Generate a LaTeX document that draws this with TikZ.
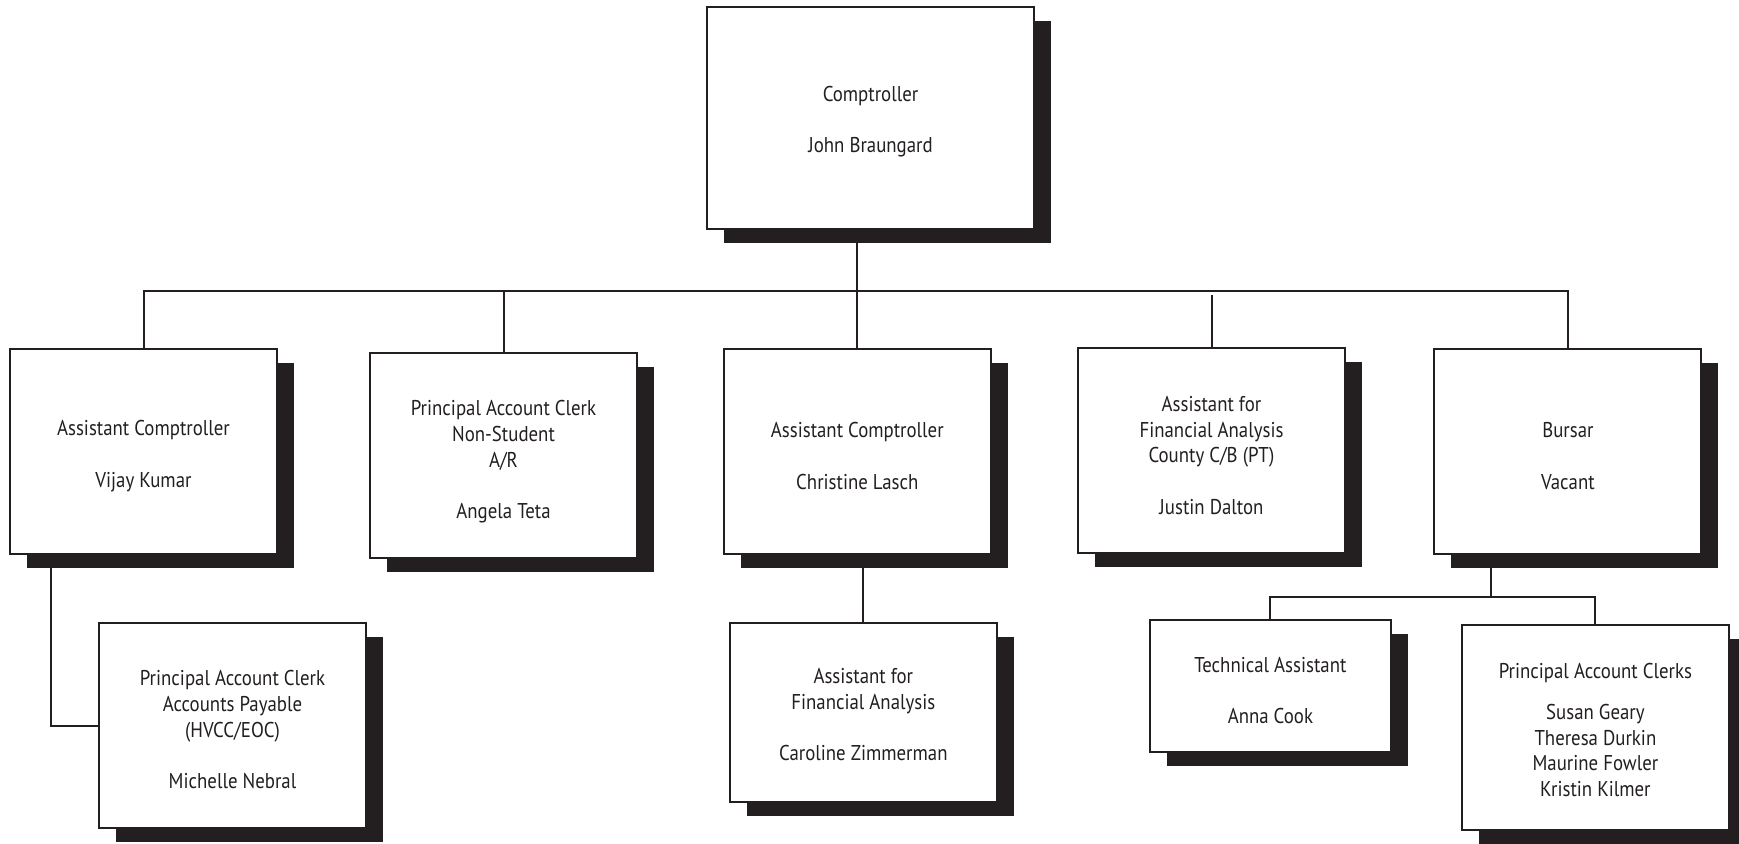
\documentclass[tikz,border=0pt]{standalone}
\usepackage{fontspec}
\setmainfont{PT Sans}[FakeStretch=0.88]
\usepackage{tikz}
\usetikzlibrary{positioning,shadows}
\definecolor{inkc}{HTML}{231F20}
\newcommand{\topgap}[1]{\rule{0pt}{#1}}

\begin{document}
\begin{tikzpicture}[x=0.5pt,y=-0.5pt,
		post/.style={draw=inkc,line width=1pt,fill=white,align=center,
			minimum width=133.5pt,minimum height=102.5pt,inner sep=2pt,
			font=\fontsize{10.7}{12.85}\selectfont,text=inkc,
			drop shadow={shadow xshift=8.5pt,shadow yshift=-7pt,fill=inkc,opacity=1}},
		link/.style={draw=inkc,line width=1pt}]
		\path[use as bounding box,fill=white] (0,0) rectangle (1739,843);
		
		\node[post,minimum width=163.5pt,minimum height=111pt] (comp) at (870.5,118) {\topgap{11.5pt}Comptroller\\[12.85pt]John Braungard};
		
		\node[post] (vijay) at (143.5,451.5) {\topgap{12.4pt}Assistant Comptroller\\[12.85pt]Vijay Kumar};
		\node[post,right=45.5pt of vijay,yshift=-2pt] (angela) {\topgap{14pt}Principal Account Clerk\\Non-Student\\A/R\\[12.85pt]Angela Teta};
		\node[post,right=42.4pt of angela,yshift=2pt] (christine) {\topgap{12pt}Assistant Comptroller\\[12.85pt]Christine Lasch};
		\node[post,right=42.6pt of christine,yshift=0.75pt] (justin) {\topgap{13pt}Assistant for\\Financial Analysis\\County C/B (PT)\\[12.85pt]Justin Dalton};
		\node[post,right=43.7pt of justin,yshift=-0.75pt] (bursar) {\topgap{12pt}Bursar\\[12.85pt]Vacant};
		
		\node[post,below=33.5pt of vijay,xshift=44.5pt] (michelle) {\topgap{12pt}Principal Account Clerk\\Accounts Payable\\(HVCC/EOC)\\[12.85pt]Michelle Nebral};
		\node[post,minimum height=89.5pt,below=33.5pt of christine,xshift=3pt] (caroline) {\topgap{9.7pt}Assistant for\\Financial Analysis\\[12.85pt]Caroline Zimmerman};
		\node[post,minimum width=120.5pt,minimum height=66pt,below=32pt of bursar,xshift=-148.75pt] (technical) {\topgap{12.2pt}Technical Assistant\\[12.85pt]Anna Cook};
		\node[post,below=34.5pt of bursar,xshift=13.75pt] (clerks) {\topgap{10.2pt}Principal Account Clerks\\[7.7pt]Susan Geary\\Theresa Durkin\\Maurine Fowler\\Kristin Kilmer};
		
		\coordinate (bus) at (870.5,291);
		\coordinate (subbus) at (1491,597);
		
		\draw[link] (vijay.north) |- (bus) -| (bursar.north);
		\draw[link] (christine.north) -- (christine.north |- comp.south);
		\draw[link] (angela.north) -- ++(0,-60);
		\draw[link] (justin.north) -- ++(0,-52);
		\draw[link] ([xshift=21pt]vijay.south west) |- (michelle.west);
		\draw[link] (caroline.north) -- (caroline.north |- christine.south);
		\draw[link] (subbus |- bursar.south) -- (subbus);
		\draw[link] (technical.north) |- (subbus) -| (clerks.north);
	\end{tikzpicture}
\end{document}
